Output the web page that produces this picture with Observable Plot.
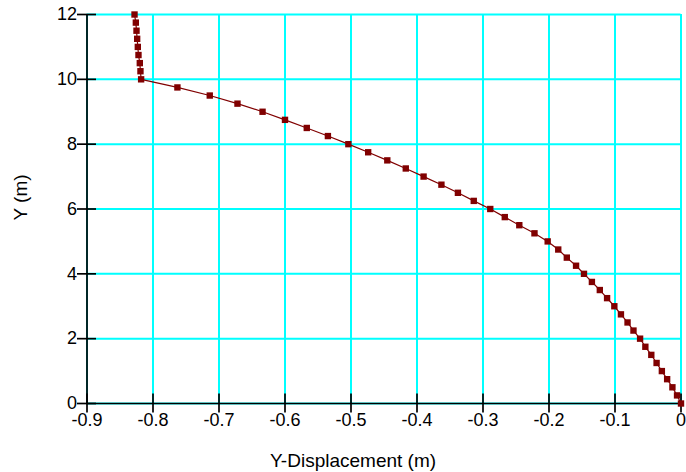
<!DOCTYPE html>
<html>
<head>
<meta charset="utf-8">
<script src="https://cdn.jsdelivr.net/npm/d3@7"></script>
<script src="https://cdn.jsdelivr.net/npm/@observablehq/plot@0.6"></script>
<style>
  html, body { margin: 0; padding: 0; background: #fff; }
</style>
</head>
<body>
<div id="chart"></div>
<script>
// Elevation along the member (m)
const elevation = [
  0, 0.25, 0.5, 0.75, 1, 1.25, 1.5, 1.75, 2, 2.25, 2.5, 2.75,
  3, 3.25, 3.5, 3.75, 4, 4.25, 4.5, 4.75, 5, 5.25, 5.5, 5.75,
  6, 6.25, 6.5, 6.75, 7, 7.25, 7.5, 7.75, 8, 8.25, 8.5, 8.75,
  9, 9.25, 9.5, 9.75, 10, 10.25, 10.5, 10.75, 11, 11.25, 11.5, 11.75, 12
];

// Lateral Y-displacement at each elevation (m)
const displacement = [
  0, -0.006, -0.013, -0.021, -0.029, -0.037, -0.045, -0.054, -0.062, -0.072, -0.081, -0.091,
  -0.101, -0.112, -0.123, -0.135, -0.147, -0.159, -0.173, -0.186, -0.202, -0.222, -0.245, -0.267,
  -0.289, -0.314, -0.338, -0.363, -0.390, -0.417, -0.445, -0.474, -0.504, -0.535, -0.567, -0.600,
  -0.634, -0.672, -0.714, -0.763, -0.818, -0.819, -0.820, -0.822, -0.823, -0.824, -0.825, -0.826, -0.828
];

const xTicks = [-0.9, -0.8, -0.7, -0.6, -0.5, -0.4, -0.3, -0.2, -0.1, 0];
const yTicks = [0, 2, 4, 6, 8, 10, 12];

const xTitle = "Y-Displacement (m)";
const yTitle = "Y (m)";

const points = elevation.map((y, i) => ({ y, x: displacement[i] }));

const gridColor = "#00ffff";
const seriesColor = "#800000";
const axisWidth = 1.7;
const tickFontSize = 18;
const titleFontSize = 19;

const chart = Plot.plot({
  width: 686,
  height: 472,
  marginLeft: 86.5,
  marginRight: 5.5,
  marginTop: 14,
  marginBottom: 69,
  style: {
    fontFamily: "'Liberation Sans', Arial, sans-serif",
    fontSize: `${tickFontSize}px`,
    background: "#fff",
    color: "#000",
    overflow: "visible"
  },
  x: { domain: [-0.9, 0] },
  y: { domain: [0, 12] },
  marks: [
    // cyan grid at every tick
    Plot.gridX(xTicks, { stroke: gridColor, strokeOpacity: 1, strokeWidth: 2 }),
    Plot.gridY(yTicks, { stroke: gridColor, strokeOpacity: 1, strokeWidth: 2 }),
    // black axis lines on the left and bottom
    Plot.ruleX([-0.9], { stroke: "#000", strokeWidth: axisWidth }),
    Plot.ruleY([0], { stroke: "#000", strokeWidth: axisWidth }),
    // tick marks that cross the axis lines
    Plot.axisX(xTicks, { tickSize: 19, dy: -9.5, text: null, label: null, stroke: "#000", strokeWidth: axisWidth }),
    Plot.axisY(yTicks, { tickSize: 19, dx: 9.5, text: null, label: null, stroke: "#000", strokeWidth: axisWidth }),
    // tick labels
    Plot.axisX(xTicks, {
      tickSize: 0, tickPadding: 10, label: null, fontSize: tickFontSize,
      tickFormat: d => d === 0 ? "0" : d.toFixed(1)
    }),
    Plot.axisY(yTicks, { tickSize: 0, tickPadding: 10, label: null, fontSize: tickFontSize }),
    // axis titles
    Plot.text([xTitle], {
      frameAnchor: "bottom", textAnchor: "middle", lineAnchor: "middle",
      dx: -31, dy: 57, fontSize: titleFontSize
    }),
    Plot.text([yTitle], {
      frameAnchor: "left", textAnchor: "middle", lineAnchor: "middle",
      rotate: -90, dx: -66, dy: -11.5, fontSize: titleFontSize
    }),
    // displacement profile
    Plot.line(points, { x: "x", y: "y", stroke: seriesColor, strokeWidth: 1.2 }),
    Plot.dot(points, { x: "x", y: "y", symbol: "square", r: 3.6, fill: seriesColor, stroke: "none" })
  ]
});

document.getElementById("chart").appendChild(chart);
</script>
</body>
</html>
